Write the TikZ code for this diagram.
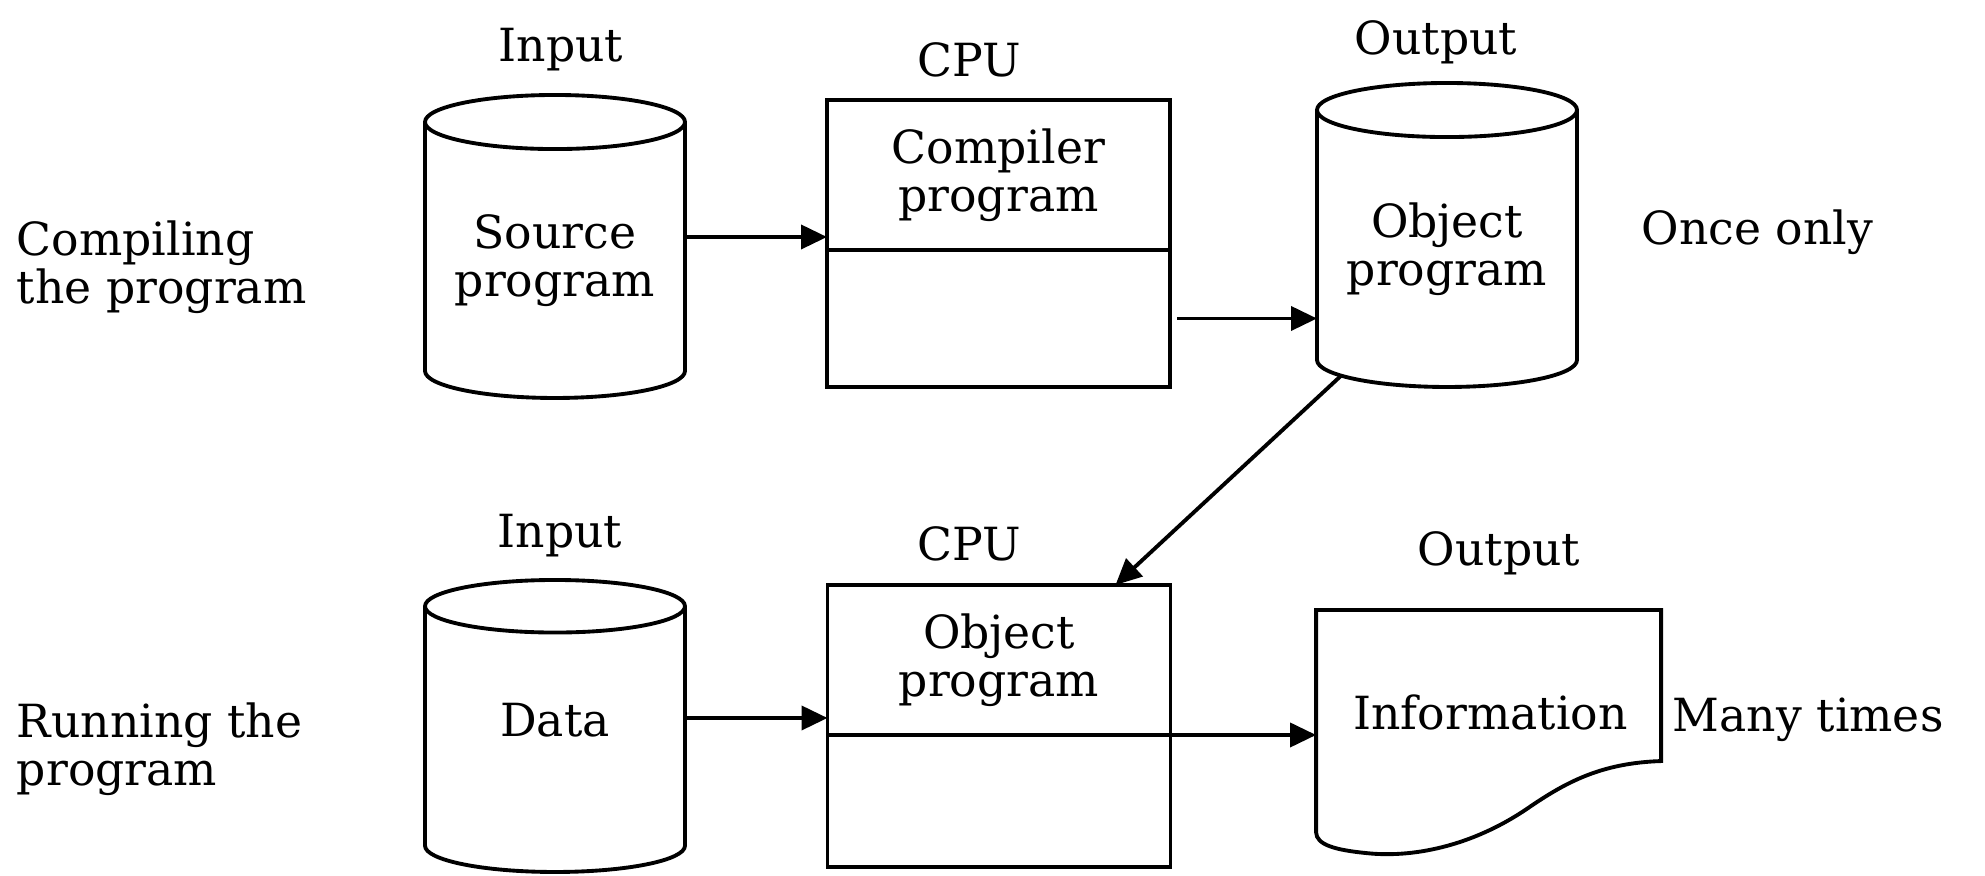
\documentclass[tikz,border=0pt]{standalone}
\usepackage{fontspec}
\setmainfont{DejaVu Serif}
\usetikzlibrary{arrows.meta, positioning, shapes.geometric, calc}
\tikzset{
  every picture/.style={line width=1.1pt},
  every node/.style={font=\fontsize{13}{13.6}\selectfont},
  store/.style={draw, cylinder, shape border rotate=90, anchor=shape center, minimum width=2.6cm,
                align=center, inner sep=0pt, outer sep=0pt},
  procbox/.style={draw, rectangle, minimum width=3.43cm, align=center, inner sep=0pt, outer sep=0pt},
  arrow/.style={-{Triangle[length=2.6mm, width=2.4mm]}},
  head/.style={anchor=base, inner sep=0pt},
  side/.style={align=left, anchor=west, inner sep=0pt},
}
\begin{document}
\begin{tikzpicture}
  \useasboundingbox (0,0) rectangle (19.85,-8.76);
  % compiling the program
  \node[store, aspect=0.27, minimum height=3.03cm] (src) at (5.55,-2.465) {Source\\program};
  \node[procbox, minimum height=1.5cm] (comp) at (9.985,-1.75) {Compiler\\program};
  \node[procbox, minimum height=1.37cm, below=0pt of comp] (compLow) {};
  \node[store, aspect=0.27, minimum height=3.04cm] (obj) at (14.47,-2.35) {Object\\program};
  \node[head] at (5.61,-0.62) {Input};
  \node[head] at (9.69,-0.77) {CPU};
  \node[head] at (14.36,-0.55) {Output};
  \node[side] (compTxt) at (0.15,-2.67) {Compiling\\the program};
  \node[side, anchor=base west] (once) at (16.40,-2.45) {Once only};
  \draw[arrow] ([yshift=-0.62cm]comp.west -| src.east) -- ([yshift=-0.62cm]comp.west);
  \draw[arrow] ([xshift=0.7mm]compLow.east) -- (compLow.east -| obj.west);
  % running the program
  \node[store, aspect=0.48, text depth=0.4cm, minimum height=2.92cm] (data) at (5.55,-7.26) {Data};
  \node[procbox, minimum height=1.5cm] (run) at (9.99,-6.6) {Object\\program};
  \node[procbox, minimum height=1.32cm, below=0pt of run] (runLow) {};
  \node[minimum width=3.45cm, minimum height=2cm] (doc) at (14.905,-7.12) {Information};
  \draw[shift={(doc.north west)}] (0,0) -- (3.45,0) -- (3.45,-1.51)
    .. controls (2.85,-1.53) and (2.5,-1.72) .. (2.12,-1.98)
    .. controls (1.55,-2.37) and (0.95,-2.48) .. (0.5,-2.43)
    .. controls (0.2,-2.4) and (0,-2.35) .. (0,-2.22) -- cycle;
  \node[head] at (5.60,-5.48) {Input};
  \node[head] at (9.69,-5.61) {CPU};
  \node[head] at (14.99,-5.66) {Output};
  \node[side] (runTxt) at (0.15,-7.49) {Running the\\program};
  \node[side, anchor=base west] (many) at (16.71,-7.32) {Many times};
  \draw[arrow] ([yshift=-0.58cm]run.west -| data.east) -- ([yshift=-0.58cm]run.west);
  \draw[arrow] (run.south east) -- (run.south east -| doc.west);
  \draw[arrow] (obj.230) -- ([xshift=-0.55cm]run.north east);
\end{tikzpicture}
\end{document}
